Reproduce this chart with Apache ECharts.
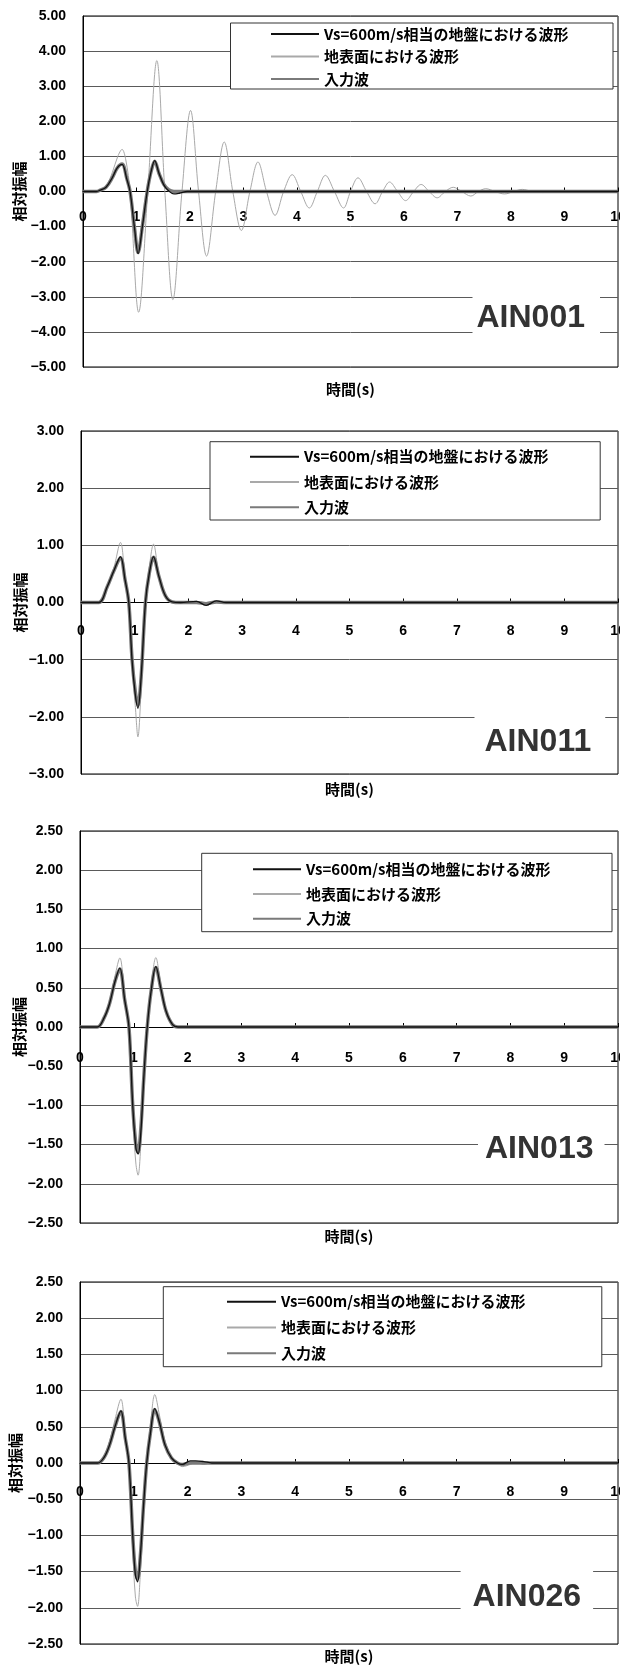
<!DOCTYPE html>
<html>
<head>
<meta charset="utf-8">
<title>AIN waveforms</title>
<script src="https://cdn.jsdelivr.net/npm/echarts@6/dist/echarts.min.js"></script>
<style>
  html, body { margin: 0; padding: 0; background: #fff; }
  #chart { width: 620px; height: 1666px; }
</style>
</head>
<body>
<div id="chart"></div>
<script>
// ---- series names and station tags ----
const seriesNames = ['Vs=600m/s相当の地盤における波形', '地表面における波形', '入力波'];
const stationNames = ['AIN001', 'AIN011', 'AIN013', 'AIN026'];
const xAxisName = '時間(s)';
const yAxisName = '相対振幅';

// value ranges of the amplitude axes: [min, max, interval]
const yRanges = [[-5, 5, 1], [-3, 3, 1], [-2.5, 2.5, 0.5], [-2.5, 2.5, 0.5]];
const timeRange = [0, 10, 1];

// ---- AIN001 (time in s, relative amplitude) ----
const ain001Time = [0, 0.25, 0.31, 0.43, 0.55, 0.64, 0.73, 0.82, 0.88, 0.96, 1.03, 1.11, 1.2, 1.27, 1.34, 1.42, 1.51, 1.6, 1.7, 1.8, 1.95, 10];
const ain001Vs600 = [0, 0, 0.03, 0.12, 0.4, 0.67, 0.77, 0.35, 0, -1.0, -1.77, -1.0, 0, 0.55, 0.88, 0.52, 0.19, 0.02, -0.07, -0.05, 0, 0];
const ain001Input = [0, 0, 0.03, 0.12, 0.4, 0.67, 0.78, 0.36, 0, -1.0, -1.74, -0.98, 0, 0.55, 0.86, 0.52, 0.2, 0.05, 0, 0, 0, 0];
const ain001SurfaceTime = [0, 0.25, 0.35, 0.45, 0.55, 0.65, 0.73, 0.8, 0.88, 1.04, 1.21, 1.38, 1.53, 1.68, 1.85, 2.01, 2.16, 2.31, 2.48, 2.64, 2.8, 2.96, 3.12, 3.27, 3.43, 3.59, 3.75, 3.91, 4.07, 4.23, 4.38, 4.53, 4.7, 4.87, 5.0, 5.14, 5.3, 5.46, 5.6, 5.73, 5.88, 6.03, 6.18, 6.32, 6.47, 6.62, 6.77, 6.92, 7.08, 7.25, 7.39, 7.53, 7.7, 7.88, 8.05, 8.21, 8.4, 8.6, 8.8, 10];
const ain001Surface = [0, 0, 0.05, 0.2, 0.55, 1.0, 1.2, 0.9, 0, -3.44, 0, 3.73, 0, -3.08, 0, 2.31, 0, -1.84, 0, 1.41, 0, -1.11, 0, 0.84, 0, -0.68, 0, 0.48, 0, -0.47, 0, 0.46, 0, -0.47, 0, 0.39, 0, -0.35, 0, 0.27, 0, -0.26, 0, 0.2, 0, -0.18, 0, 0.12, 0, -0.13, 0, 0.08, 0, -0.07, 0, 0.06, 0, -0.03, 0, 0];

// ---- AIN011 ----
const ain011Time = [0, 0.33, 0.49, 0.61, 0.735, 0.82, 0.89, 0.95, 1.01, 1.06, 1.12, 1.2, 1.27, 1.35, 1.45, 1.57, 1.7, 1.85, 2.15, 2.33, 2.52, 2.7, 10];
const ain011Vs600 = [0, 0, 0.28, 0.55, 0.8, 0.4, 0, -1.0, -1.6, -1.85, -1.3, 0, 0.5, 0.8, 0.46, 0.12, 0.01, 0, 0.02, -0.05, 0.03, 0, 0];
const ain011Input = [0, 0, 0.28, 0.55, 0.78, 0.4, 0, -0.98, -1.55, -1.8, -1.3, 0, 0.5, 0.79, 0.46, 0.12, 0.01, 0, 0, -0.02, 0.01, 0, 0];
const ain011Surface = [0, 0, 0.3, 0.6, 1.05, 0.45, 0, -1.1, -1.8, -2.35, -1.5, 0, 0.6, 1.02, 0.5, 0.13, 0.01, 0, 0.02, -0.05, 0.03, 0, 0];

// ---- AIN013 ----
const ain013Time = [0, 0.32, 0.45, 0.55, 0.65, 0.74, 0.83, 0.91, 0.98, 1.04, 1.08, 1.13, 1.19, 1.25, 1.32, 1.41, 1.5, 1.6, 1.72, 1.82, 10];
const ain013Vs600 = [0, 0, 0.12, 0.3, 0.58, 0.75, 0.35, 0, -1.0, -1.55, -1.62, -1.35, -0.6, 0, 0.45, 0.77, 0.5, 0.2, 0.03, 0, 0];
const ain013Input = [0, 0, 0.12, 0.3, 0.58, 0.74, 0.35, 0, -1.0, -1.5, -1.6, -1.3, -0.6, 0, 0.45, 0.76, 0.5, 0.2, 0.03, 0, 0];
const ain013Surface = [0, 0, 0.13, 0.33, 0.65, 0.88, 0.4, 0, -1.15, -1.75, -1.89, -1.5, -0.7, 0, 0.5, 0.885, 0.55, 0.22, 0.03, 0, 0];

// ---- AIN026 ----
const ain026Time = [0, 0.33, 0.45, 0.55, 0.65, 0.76, 0.84, 0.91, 0.98, 1.03, 1.07, 1.12, 1.18, 1.24, 1.31, 1.39, 1.48, 1.58, 1.7, 1.81, 1.9, 2.05, 2.15, 2.3, 2.45, 2.6, 10];
const ain026Vs600 = [0, 0, 0.08, 0.25, 0.5, 0.72, 0.35, 0, -1.0, -1.55, -1.64, -1.3, -0.6, 0, 0.42, 0.75, 0.55, 0.25, 0.07, 0, -0.02, 0.03, 0.03, 0.02, 0, 0, 0];
const ain026Input = [0, 0, 0.08, 0.25, 0.5, 0.71, 0.35, 0, -1.0, -1.5, -1.6, -1.3, -0.6, 0, 0.42, 0.74, 0.55, 0.25, 0.07, 0, -0.02, 0, 0, 0, 0, 0, 0];
const ain026Surface = [0, 0, 0.1, 0.3, 0.6, 0.88, 0.42, 0, -1.2, -1.85, -1.98, -1.55, -0.7, 0, 0.52, 0.945, 0.65, 0.3, 0.08, 0, -0.05, -0.02, 0.01, -0.02, 0.01, 0, 0];

// one entry per station: [time, values] for each of the three series
const stationSeries = [
  [[ain001Time, ain001Vs600], [ain001SurfaceTime, ain001Surface], [ain001Time, ain001Input]],
  [[ain011Time, ain011Vs600], [ain011Time, ain011Surface], [ain011Time, ain011Input]],
  [[ain013Time, ain013Vs600], [ain013Time, ain013Surface], [ain013Time, ain013Input]],
  [[ain026Time, ain026Vs600], [ain026Time, ain026Surface], [ain026Time, ain026Input]]
];

// ---- layout of the four stacked panels ----
const layout = [
  { grid: { left: 83, top: 16, right: 2, height: 351 }, xLabelMargin: 19, xNameGap: 190, yNameGap: 56,
    legend: { left: 270, top: 25.5, itemGap: 5.5, itemWidth: 48 }, box: [230.5, 23, 382.5, 66],
    tag: { left: 472.5, top: 285, padding: [17, 15, 6, 4] } },
  { grid: { left: 81, top: 431, right: 2, height: 343 }, xLabelMargin: 22, xNameGap: 179, yNameGap: 53,
    legend: { left: 249, top: 448.2, itemGap: 8.3, itemWidth: 49 }, box: [210, 441.7, 390.2, 78.3],
    tag: { left: 474.5, top: 706, padding: [20, 14, 8, 10] } },
  { grid: { left: 80, top: 831, right: 2, height: 392 }, xLabelMargin: 24, xNameGap: 202, yNameGap: 53,
    legend: { left: 252, top: 860.8, itemGap: 7.7, itemWidth: 48 }, box: [201.7, 853.3, 410.3, 78.4],
    tag: { left: 478, top: 1120, padding: [13, 11, 7, 7] } },
  { grid: { left: 80, top: 1282, right: 2, height: 362 }, xLabelMargin: 22, xNameGap: 186, yNameGap: 57,
    legend: { left: 226, top: 1293.2, itemGap: 8.8, itemWidth: 49 }, box: [163.3, 1286.7, 438.5, 80],
    tag: { left: 460.6, top: 1562, padding: [19, 12, 12, 12] } }
];

const lineStyles = [
  { color: '#111111', width: 1.3 },   // Vs=600m/s
  { color: '#a9a9a9', width: 1 },     // ground surface
  { color: '#7a7a7a', width: 3.5 }    // input wave
];
const seriesZ = [4, 2, 3];

const latin = '"Liberation Sans", Arial, sans-serif';
const cjk = '"Noto Sans CJK JP", "Noto Sans CJK SC", sans-serif';

function fmtAmp(v) {
  const s = Math.abs(v).toFixed(2);
  return v < 0 ? '\u2212' + s : s;
}

const option = {
  backgroundColor: '#ffffff',
  animation: false,
  grid: [], xAxis: [], yAxis: [], series: [], legend: [], title: [], graphic: []
};

layout.forEach((p, i) => {
  const yr = yRanges[i];
  // the time axis runs along the zero line of the amplitude axis
  const zeroShift = p.grid.height * (0 - yr[0]) / (yr[1] - yr[0]);

  option.grid.push(Object.assign({
    show: true, borderColor: '#000', borderWidth: 1, backgroundColor: 'transparent',
    containLabel: false, outerBoundsMode: 'none'
  }, p.grid));

  option.xAxis.push({
    type: 'value', gridIndex: i, position: 'bottom', offset: -zeroShift,
    min: timeRange[0], max: timeRange[1], interval: timeRange[2],
    axisLine: { onZero: false, lineStyle: { color: '#000', width: 1 } },
    axisTick: { show: true, inside: true, length: 4, lineStyle: { color: '#000' } },
    axisLabel: { margin: p.xLabelMargin, color: '#000', fontSize: 14, fontWeight: 'bold', fontFamily: latin,
                 showMinLabel: true, showMaxLabel: true, hideOverlap: false },
    splitLine: { show: false },
    name: xAxisName, nameLocation: 'middle', nameGap: p.xNameGap, nameMoveOverlap: false,
    nameTextStyle: { color: '#000', fontSize: 15, fontWeight: 'bold', fontFamily: cjk }
  });

  option.yAxis.push({
    type: 'value', gridIndex: i,
    min: yr[0], max: yr[1], interval: yr[2],
    axisLine: { show: true, onZero: false, lineStyle: { color: '#000', width: 1 } },
    axisTick: { show: false },
    axisLabel: { margin: 17, color: '#000', fontSize: 14, fontWeight: 'bold', fontFamily: latin, formatter: fmtAmp },
    splitLine: { show: true, lineStyle: { color: '#5a5a5a', width: 1 } },
    name: yAxisName, nameLocation: 'middle', nameGap: p.yNameGap, nameRotate: 90, nameMoveOverlap: false,
    nameTextStyle: { color: '#000', fontSize: 15, fontWeight: 'bold', fontFamily: cjk }
  });

  stationSeries[i].forEach((pair, k) => {
    const t = pair[0], v = pair[1];
    option.series.push({
      name: seriesNames[k], type: 'line',
      xAxisIndex: i, yAxisIndex: i,
      data: t.map((x, j) => [x, v[j]]),
      showSymbol: false, symbol: 'none', smooth: 0.35,
      lineStyle: lineStyles[k], itemStyle: { color: lineStyles[k].color },
      z: seriesZ[k], silent: true
    });
  });

  option.legend.push({
    data: seriesNames.slice(),
    orient: 'vertical', left: p.legend.left, top: p.legend.top,
    itemWidth: p.legend.itemWidth, itemHeight: 14, itemGap: p.legend.itemGap,
    padding: 0, selectedMode: false, z: 7,
    itemStyle: { opacity: 0 },
    textStyle: { color: '#000', fontSize: 15, fontWeight: 'bold', fontFamily: cjk, lineHeight: 17 }
  });

  option.graphic.push({
    type: 'rect', z: 6, silent: true,
    shape: { x: p.box[0], y: p.box[1], width: p.box[2], height: p.box[3] },
    style: { fill: '#ffffff', stroke: '#333333', lineWidth: 1 }
  });

  option.title.push({
    text: stationNames[i], left: p.tag.left, top: p.tag.top, padding: p.tag.padding,
    backgroundColor: '#ffffff', z: 6,
    textStyle: { color: '#333', fontSize: 32, fontWeight: 'bold', fontFamily: latin, lineHeight: 32 }
  });
});

const chart = echarts.init(document.getElementById('chart'), null, { renderer: 'canvas' });
chart.setOption(option);
</script>
</body>
</html>
